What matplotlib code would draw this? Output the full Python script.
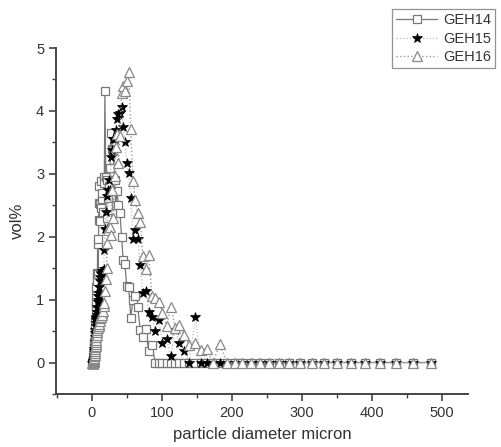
import matplotlib
matplotlib.use("Agg")
import matplotlib.pyplot as plt
from matplotlib.ticker import MultipleLocator

plt.rcParams["font.family"] = ["Liberation Sans", "DejaVu Sans"]

# particle size bins (micron), shared by all three samples
diameter = [
    1.02, 1.08, 1.13, 1.19, 1.26, 1.33, 1.40, 1.48, 1.57, 1.65,
    1.74, 1.84, 1.94, 2.06, 2.17, 2.29, 2.41, 2.55, 2.69, 2.84,
    2.99, 3.17, 3.34, 3.52, 3.73, 3.93, 4.14, 4.38, 4.62, 4.88,
    5.15, 5.44, 5.74, 6.06, 6.39, 6.75, 7.13, 7.52, 7.94, 8.39,
    8.86, 9.35, 9.86, 10.4, 11.0, 11.6, 12.2, 12.9, 13.6, 14.5,
    15.2, 16.1, 17.0, 17.9, 18.8, 20.0, 21.1, 22.2, 23.4, 24.7,
    26.2, 27.6, 29.1, 30.7, 32.5, 34.2, 36.1, 38.2, 40.3, 42.6,
    44.9, 47.3, 50.0, 52.8, 55.7, 58.8, 62.1, 65.6, 69.2, 73.0,
    77.1, 81.3, 85.9, 90.7, 95.7, 101, 107, 113, 119, 125,
    132, 139, 148, 156, 164, 173, 183, 193, 204, 215,
    227, 240, 253, 267, 282, 297, 315, 332, 350, 370,
    390, 412, 435, 459, 484,
]

geh14 = [
    0, 0, 0, 0, 0, 0, 0, 0, 0, 0,
    0, 0.01, 0.01, 0.02, 0.03, 0.04, 0.05, 0.06, 0.08, 0.10,
    0.12, 0.15, 0.18, 0.22, 0.27, 0.32, 0.38, 0.45, 0.52, 0.60,
    0.68, 0.78, 0.88, 0.95, 1.05, 1.20, 1.38, 1.43, 1.30, 1.88,
    1.97, 1.40, 2.27, 2.54, 2.80, 2.52, 2.25, 2.88, 2.45, 2.60,
    2.70, 2.40, 2.95, 2.85, 4.31, 2.95, 2.30, 2.90, 2.62, 2.80,
    3.10, 3.65, 3.40, 3.38, 2.90, 2.50, 2.72, 2.50, 2.38, 2.00,
    1.63, 1.56, 1.21, 1.20, 0.71, 1.00, 1.06, 0.89, 0.52, 0.40,
    0.54, 0.18, 0.28, 0, 0, 0, 0, 0, 0, 0,
    0, 0, 0, 0, 0, 0, 0, 0, 0, 0,
    0, 0, 0, 0, 0, 0, 0, 0, 0, 0,
    0, 0, 0, 0, 0,
]

geh15 = [
    0, 0, 0, 0, 0, 0, 0, 0, 0, 0,
    0, 0, 0, 0.01, 0.01, 0.02, 0.03, 0.04, 0.05, 0.06,
    0.08, 0.10, 0.12, 0.15, 0.18, 0.22, 0.27, 0.33, 0.40, 0.47,
    0.52, 0.58, 0.63, 0.68, 0.70, 0.72, 0.75, 0.80, 0.88, 0.96,
    1.00, 1.05, 1.05, 1.10, 1.20, 1.30, 1.36, 1.40, 1.43, 1.45,
    1.42, 1.45, 1.48, 1.79, 2.13, 2.40, 2.64, 2.13, 2.75, 2.90,
    2.75, 3.26, 3.38, 3.56, 3.55, 3.70, 3.87, 3.95, 3.97, 4.07,
    3.75, 3.51, 3.17, 3.01, 2.61, 1.97, 2.11, 1.97, 1.55, 1.11,
    1.13, 0.81, 0.73, 0.50, 0.67, 0.31, 0.37, 0.10, 0.52, 0.31,
    0.18, 0, 0.72, 0, 0, 0, 0, 0, 0, 0,
    0, 0, 0, 0, 0, 0, 0, 0, 0, 0,
    0, 0, 0, 0, 0,
]

geh16 = [
    0, 0, 0, 0, 0, 0, 0, 0, 0, 0,
    0, 0, 0, 0, 0, 0, 0.01, 0.01, 0.02, 0.02,
    0.03, 0.04, 0.05, 0.06, 0.08, 0.10, 0.12, 0.15, 0.18, 0.21,
    0.24, 0.27, 0.30, 0.33, 0.36, 0.40, 0.44, 0.48, 0.52, 0.55,
    0.58, 0.60, 0.62, 0.58, 0.62, 0.66, 0.70, 0.72, 0.76, 0.78,
    0.76, 0.82, 0.90, 0.95, 1.13, 1.32, 1.50, 1.90, 2.10, 2.16,
    2.16, 2.03, 2.75, 2.30, 2.96, 3.43, 3.64, 3.17, 3.60, 4.28,
    4.39, 4.32, 4.47, 4.62, 3.72, 2.88, 2.58, 2.38, 2.24, 1.69,
    1.48, 1.71, 1.05, 1.02, 0.97, 0.79, 0.58, 0.89, 0.55, 0.60,
    0.44, 0.28, 0.31, 0.20, 0.22, 0, 0.30, 0, 0, 0,
    0, 0, 0, 0, 0, 0, 0, 0, 0, 0,
    0, 0, 0, 0, 0,
]

fig = plt.figure(figsize=(5.02, 4.47), dpi=100)
ax = fig.add_axes([0.1116, 0.1186, 0.8204, 0.774])

# Draw the three samples
ax.plot(diameter, geh14, color="#777777", linestyle="-", linewidth=0.9,
        marker="s", markersize=5.5, markerfacecolor="white",
        markeredgecolor="#777777", markeredgewidth=0.9, label="GEH14")
ax.plot(diameter, geh15, color="#bbbbbb", linestyle=":", linewidth=0.9,
        marker="*", markersize=7.5, markerfacecolor="black",
        markeredgecolor="black", markeredgewidth=0.5, label="GEH15")
ax.plot(diameter, geh16, color="#999999", linestyle=":", linewidth=1.0,
        marker="^", markersize=7, markerfacecolor="white",
        markeredgecolor="#888888", markeredgewidth=0.9, label="GEH16")

# Axis limits and ticks
ax.set_xlim(-51, 537)
ax.set_ylim(-0.5, 5)
ax.xaxis.set_minor_locator(MultipleLocator(50))
ax.yaxis.set_minor_locator(MultipleLocator(0.5))
ax.set_xticks(range(0, 501, 100))
ax.set_yticks(range(0, 6))

for side in ("top", "right"):
    ax.spines[side].set_visible(False)
for side in ("left", "bottom"):
    ax.spines[side].set_color("#444444")
    ax.spines[side].set_linewidth(1.4)

ax.tick_params(which="major", direction="out", length=5, width=1.2,
               color="#444444", labelsize=10.5, labelcolor="#333333")
ax.tick_params(which="minor", direction="out", length=3, width=1.0,
               color="#444444")

ax.set_xlabel("particle diameter micron", fontsize=12, color="#333333",
              labelpad=5)
ax.set_ylabel("vol%", fontsize=12, color="#333333", labelpad=8)

# Legend in the top right corner of the figure
leg = fig.legend(loc="upper left", bbox_to_anchor=(0.781, 0.98),
                 fontsize=10.5, frameon=True, fancybox=False,
                 handlelength=2.8, handletextpad=0.4, borderpad=0.3,
                 labelspacing=0.3, borderaxespad=0)
leg.get_frame().set_edgecolor("#777777")
leg.get_frame().set_linewidth(0.9)
for text in leg.get_texts():
    text.set_color("#333333")

fig.savefig("out.png", dpi=100)
